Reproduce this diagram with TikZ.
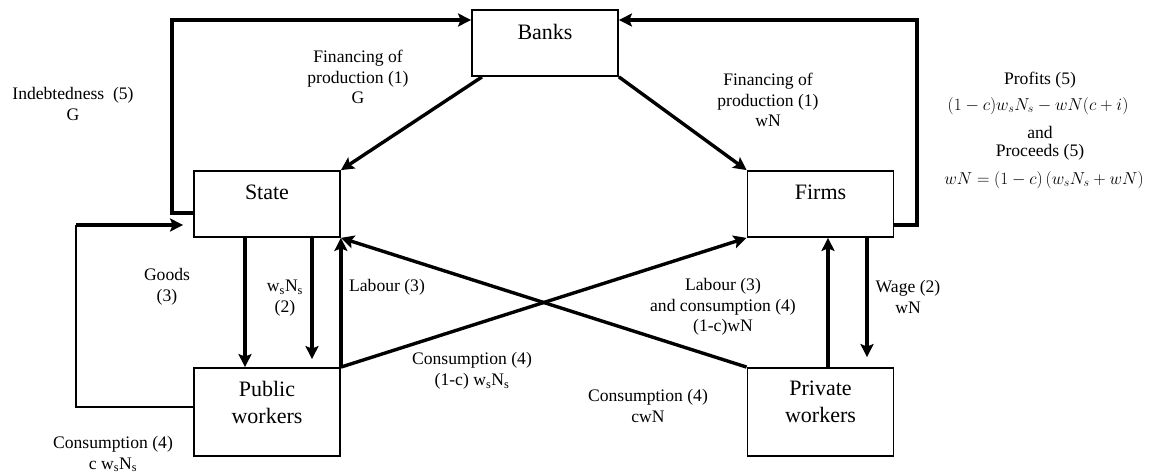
\documentclass[tikz,border=0pt]{standalone}
\usepackage{fontspec}
\setmainfont{Liberation Serif}
\usetikzlibrary{arrows.meta,calc}
\begin{document}
\begin{tikzpicture}[x=1pt,y=-1pt,
 box/.style={draw,line width=1.8pt,minimum width=146pt,minimum height=66pt,inner sep=0pt},
 tallbox/.style={box,minimum height=88pt},
 flow/.style={line width=3.4pt,-{Stealth[length=13pt,width=13pt,inset=2.5pt]}},
 plainline/.style={line width=1.6pt},
 lbl/.style={align=center,font=\rmfamily\fontsize{17.6}{20.5}\selectfont,inner sep=0pt},
 mathlbl/.style={align=center,font=\rmfamily\fontsize{18.8}{22}\selectfont,inner sep=0pt},
 title/.style={align=center,font=\rmfamily\fontsize{22}{27}\selectfont,inner sep=0pt}]
\useasboundingbox (0,0) rectangle (1153,473);

% boxes
\node[box] (banks) at (545,43) {};
\node[box] (state) at (267,204) {};
\node[box] (firms) at (820.5,204) {};
\node[tallbox] (public) at (267,412) {};
\node[tallbox] (private) at (820.5,412) {};

% box titles
\node[title] (tbanks) at (545,32) {Banks};
\node[title] (tstate) at (267,192) {State};
\node[title] (tfirms) at (820.5,192) {Firms};
\node[title] (tpublic) at (267,402) {Public\\workers};
\node[title] (tprivate) at (820.5,402) {Private\\workers};

% connectors
\draw[flow] (state.west |- 0,213) -- (172,213) |- (banks.west |- 0,20);
\draw[flow] (firms.east |- 0,225) -- (917,225) |- (banks.east |- 0,20);
\coordinate (loop) at (76,225);
\draw[plainline] (public.west |- 0,407) -- (76,407) -- (loop);
\draw[flow,shorten >=10pt] (loop) -- (state.west |- loop);
\draw[flow] (482,0 |- banks.south) -- (state.north east);
\draw[flow] (banks.south east) -- (firms.north west);
\draw[flow] (245,0 |- state.south) -- (245,0 |- public.north);
\draw[flow,shorten >=8pt] (312,0 |- state.south) -- (312,0 |- public.north);
\draw[flow] (public.north east) -- (state.south east);
\draw[flow] (public.north east) -- (firms.south west);
\draw[flow] (private.north west) -- (state.south east);
\draw[flow] (828,0 |- private.north) -- (828,0 |- firms.south);
\draw[flow,shorten >=10pt] (867,0 |- firms.south) -- (867,0 |- private.north);

% labels
\node[lbl] (lind) at (73,104) {Indebtedness\ \ (5)\\G};
\node[lbl] (lfinG) at (358,77) {Financing of\\production (1)\\G};
\node[lbl] (lfinW) at (768,100) {Financing of\\production (1)\\wN};
\node[lbl] (lprof1) at (1040,80) {Profits (5)};
\node[mathlbl] (lprof2) at (1038,106) {$(1-c)w_sN_s-wN(c+i)$};
\node[lbl] (lprof3) at (1040,132) {and};
\node[lbl] (lprof4) at (1040,152) {Proceeds (5)};
\node[mathlbl] (lprof5) at (1044,180) {$wN=(1-c)\left(w_sN_s+wN\right)$};
\node[lbl] (lgoods) at (167,287) {Goods\\(3)};
\node[lbl] (lwsns) at (285,298) {w\textsubscript{s}N\textsubscript{s}\\(2)};
\node[lbl] (llab) at (387,287) {Labour (3)};
\node[lbl] (llabcons) at (723,307) {Labour (3)\\and consumption (4)\\(1-c)wN};
\node[lbl] (lwage) at (908,297) {Wage (2)\\wN};
\node[lbl] (lcons1) at (472,371) {Consumption (4)\\(1-c) w\textsubscript{s}N\textsubscript{s}};
\node[lbl] (lcons2) at (648,406) {Consumption (4)\\cwN};
\node[lbl] (lcons3) at (113,454) {Consumption (4)\\c w\textsubscript{s}N\textsubscript{s}};
\end{tikzpicture}
\end{document}
